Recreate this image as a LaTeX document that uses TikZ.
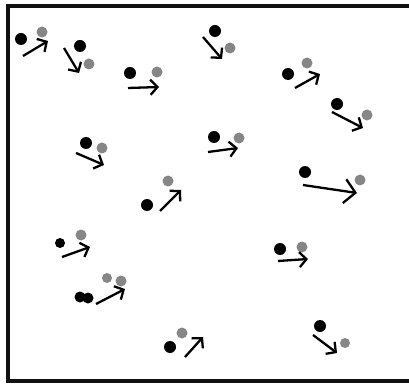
\documentclass[tikz,border=0pt]{standalone}
\usepackage{xcolor}
\usepackage{tikz}
\usetikzlibrary{arrows.meta}
\definecolor{dotink}{HTML}{000000}
\definecolor{dotgray}{HTML}{868686}
\definecolor{boxrule}{HTML}{111111}

\begin{document}
\begin{tikzpicture}[x=1pt, y=-1pt,
  >={Straight Barb[length=7pt, width=15pt]},
  old/.style={circle, fill=dotink, inner sep=0pt, minimum size=12pt},
  new/.style={circle, fill=dotgray, inner sep=0pt, minimum size=11pt},
  v/.style={->, line width=2.3pt, dotink},
  frame/.style={draw=boxrule, line width=3.2pt}]
  \useasboundingbox (0,0) rectangle (409,387);
  \draw[frame] (8,6) rectangle (420,381);
  % particles: old position, new position, velocity
  \node[old] (b1) at (21,39) {};   \node[new] (g1) at (42,32) {};
  \coordinate (s1) at (23,56);  \coordinate (e1) at (48,41);
  \node[old] (b2) at (80,46) {};   \node[new] (g2) at (89,64) {};
  \coordinate (s2) at (64,48);  \coordinate (e2) at (79,73);
  \node[old] (b3) at (130,73) {};  \node[new] (g3) at (157,72) {};
  \coordinate (s3) at (128,88); \coordinate (e3) at (159,87);
  \node[old] (b4) at (86,143) {};  \node[new] (g4) at (102,148) {};
  \coordinate (s4) at (76,153); \coordinate (e4) at (104,165);
  \node[old] (b5) at (147,205) {}; \node[new] (g5) at (168,181) {};
  \coordinate (s5) at (160,211); \coordinate (e5) at (181,190);
  \node[old] (b6) at (215,31) {};  \node[new] (g6) at (230,48) {};
  \coordinate (s6) at (203,37); \coordinate (e6) at (222,59);
  \node[old] (b7) at (288,74) {};  \node[new] (g7) at (307,63) {};
  \coordinate (s7) at (295,88); \coordinate (e7) at (320,74);
  \node[old] (b8) at (337,104) {}; \node[new] (g8) at (367,115) {};
  \coordinate (s8) at (332,112); \coordinate (e8) at (363,128);
  \node[old] (b9) at (214,137) {}; \node[new] (g9) at (239,138) {};
  \coordinate (s9) at (208,152); \coordinate (e9) at (238,148);
  \node[old] (b10) at (305,172) {}; \node[new] (g10) at (360,180) {};
  \coordinate (s10) at (303,185); \coordinate (e10) at (357,193);
  \node[old, minimum size=10pt] (b11) at (60,243) {}; \node[new] (g11) at (81,235) {};
  \coordinate (s11) at (62,257); \coordinate (e11) at (90,247);
  \node[old, minimum size=11pt] (b12) at (80,297) {}; \node[old, minimum size=11pt] (b12b) at (88,298) {};
  \node[new, minimum size=10pt] (g12) at (107,278) {}; \node[new] (g12b) at (121,281) {};
  \coordinate (s12) at (96,304); \coordinate (e12) at (125,289);
  \node[old] (b13) at (170,347) {}; \node[new] (g13) at (182,333) {};
  \coordinate (s13) at (185,357); \coordinate (e13) at (203,337);
  \node[old] (b14) at (280,249) {}; \node[new] (g14) at (302,247) {};
  \coordinate (s14) at (278,261); \coordinate (e14) at (308,259);
  \node[old] (b15) at (320,326) {}; \node[new, minimum size=10pt] (g15) at (345,343) {};
  \coordinate (s15) at (313,335); \coordinate (e15) at (337,353);
  \draw[v] (s1) -- (e1);
  \draw[v] (s2) -- (e2);
  \draw[v] (s3) -- (e3);
  \draw[v] (s4) -- (e4);
  \draw[v] (s5) -- (e5);
  \draw[v] (s6) -- (e6);
  \draw[v] (s7) -- (e7);
  \draw[v] (s8) -- (e8);
  \draw[v] (s9) -- (e9);
  \draw[v, >={Straight Barb[length=11pt, width=24pt]}] (s10) -- (e10);
  \draw[v] (s11) -- (e11);
  \draw[v] (s12) -- (e12);
  \draw[v] (s13) -- (e13);
  \draw[v] (s14) -- (e14);
  \draw[v] (s15) -- (e15);
\end{tikzpicture}
\end{document}
